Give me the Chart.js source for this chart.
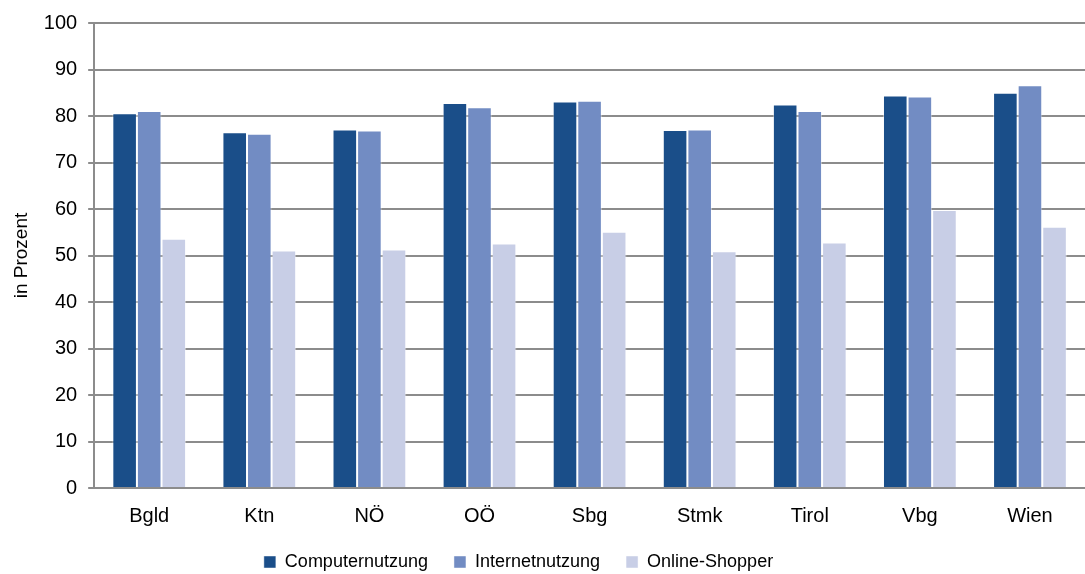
<!DOCTYPE html>
<html>
<head>
<meta charset="utf-8">
<script src="https://cdn.jsdelivr.net/npm/chart.js@4"></script>
<style>
  html, body { margin: 0; padding: 0; background: #fff; }
  #wrap { width: 1085px; height: 574px; }
</style>
</head>
<body>
<div id="wrap"><canvas id="chart"></canvas></div>
<script>
const regions = ['Bgld', 'Ktn', 'NÖ', 'OÖ', 'Sbg', 'Stmk', 'Tirol', 'Vbg', 'Wien'];
const computer = [80.6, 76.5, 77.1, 82.8, 83.1, 77.0, 82.5, 84.4, 85.0];
const internet = [81.1, 76.2, 76.9, 81.9, 83.3, 77.1, 81.1, 84.2, 86.6];
const shopper = [53.6, 51.1, 51.3, 52.6, 55.1, 50.9, 52.8, 59.8, 56.2];
const yTicks = [0, 10, 20, 30, 40, 50, 60, 70, 80, 90, 100];

const fontFamily = '"Liberation Sans", Arial, sans-serif';

// the legend sits a little left of centre in the original
const shiftLegend = {
    id: 'shiftLegend',
    afterLayout: function (chart) {
        if (chart.legend) {
            chart.legend.left -= 29;
            chart.legend.right -= 29;
        }
    }
};

new Chart(document.getElementById('chart').getContext('2d'), {
    type: 'bar',
    data: {
        labels: regions,
        datasets: [
            { label: 'Computernutzung', data: computer, backgroundColor: '#1a4e89' },
            { label: 'Internetnutzung', data: internet, backgroundColor: '#728cc3' },
            { label: 'Online-Shopper', data: shopper, backgroundColor: '#c8cee6' }
        ].map(function (ds) {
            return Object.assign(ds, {
                borderColor: 'rgba(255,255,255,0.45)',
                borderWidth: 1,
                categoryPercentage: 0.67,
                barPercentage: 1.0
            });
        })
    },
    plugins: [shiftLegend],
    options: {
        responsive: true,
        maintainAspectRatio: false,
        animation: false,
        layout: { padding: { left: 10, right: 0, top: 6, bottom: -7 } },
        plugins: {
            tooltip: { enabled: false },
            legend: {
                position: 'bottom',
                labels: {
                    boxWidth: 12,
                    boxHeight: 12,
                    padding: 26,
                    color: '#000',
                    font: { family: fontFamily, size: 18 }
                }
            }
        },
        scales: {
            x: {
                grid: { display: false, drawTicks: false },
                border: { color: '#8c8c8c', width: 2 },
                afterFit: function (scale) { scale.height = 39; },
                ticks: {
                    color: '#000',
                    padding: 16,
                    font: { family: fontFamily, size: 20 }
                }
            },
            y: {
                min: 0,
                max: 100,
                afterBuildTicks: function (axis) {
                    axis.ticks = yTicks.map(function (v) { return { value: v }; });
                },
                grid: { color: '#8c8c8c', lineWidth: 2, tickLength: 6 },
                border: { color: '#8c8c8c', width: 2 },
                ticks: {
                    color: '#000',
                    padding: 11,
                    font: { family: fontFamily, size: 20 }
                },
                title: {
                    display: true,
                    text: 'in Prozent',
                    color: '#000',
                    padding: { top: 0, bottom: 0 },
                    font: { family: fontFamily, size: 19 }
                }
            }
        }
    }
});
</script>
</body>
</html>
